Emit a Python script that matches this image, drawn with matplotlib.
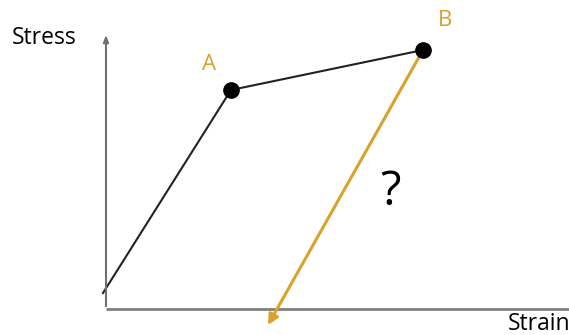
import matplotlib.pyplot as plt

# data units: origin at the axes corner, values in pixels of the sketch
strain = [-3, 125, 317]
stress = [16, 219, 259]
point_labels = ['A', 'B']
unload_end = (162, -16)

orange = '#D9A22A'
plt.rcParams['font.family'] = ['Open Sans', 'DejaVu Sans']

fig = plt.figure(figsize=(5.69, 3.35), dpi=100)
ax = fig.add_axes([0, 0, 1, 1])
ax.set_xlim(-106, 463)
ax.set_ylim(-26, 309)
ax.axis('off')

# axes
ax.annotate('', xy=(0, 277), xytext=(0, 0),
            arrowprops=dict(arrowstyle='-|>,head_length=0.4,head_width=0.15', color='#707070', lw=1.5))
ax.plot([0, 470], [0, 0], color='#808080', lw=2, solid_capstyle='butt')

# loading path
ax.plot(strain, stress, color='#222222', lw=1.5, zorder=2)
ax.plot(strain[1:], stress[1:], 'o', color='black', ms=11, zorder=3)

# unloading arrow
ax.annotate('', xy=unload_end, xytext=(strain[2], stress[2]),
            arrowprops=dict(arrowstyle='-|>,head_length=0.6,head_width=0.3', color=orange, lw=2.2,
                            shrinkA=0, shrinkB=0), zorder=2)

ax.text(strain[1] - 22, stress[1] + 26, point_labels[0], color=orange, fontsize=16, ha='center', va='center')
ax.text(strain[2] + 22, stress[2] + 30, point_labels[1], color=orange, fontsize=16, ha='center', va='center')
ax.text(284, 117, '?', color='black', fontsize=34, fontweight='medium', ha='center', va='center')

ax.text(-94, 271, 'Stress', fontsize=16.5, ha='left', va='center')
ax.text(464, -15, 'Strain', fontsize=16.5, ha='right', va='center')

fig.savefig('out.png', dpi=100)
